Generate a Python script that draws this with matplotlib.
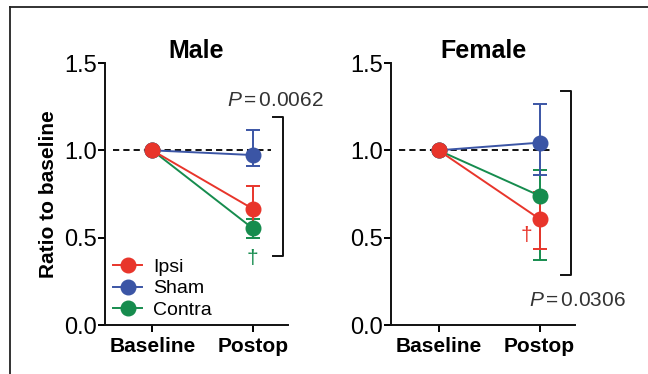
import matplotlib
matplotlib.use("Agg")
import matplotlib.pyplot as plt
from matplotlib.lines import Line2D

plt.rcParams['font.family'] = ['Liberation Sans', 'DejaVu Sans']
plt.rcParams['mathtext.fontset'] = 'custom'
plt.rcParams['mathtext.it'] = 'Liberation Sans:italic'
plt.rcParams['mathtext.rm'] = 'Liberation Sans'

timepoints = ["Baseline", "Postop"]
groups = ["Ipsi", "Sham", "Contra"]
colors = {"Ipsi": "#e8352b", "Sham": "#3b55a5", "Contra": "#168c4e"}

male_mean = {"Ipsi": [1.0, 0.665], "Sham": [1.0, 0.973], "Contra": [1.0, 0.553]}
male_upper = {"Ipsi": [1.0, 0.796], "Sham": [1.0, 1.116], "Contra": [1.0, 0.605]}
male_lower = {"Ipsi": [1.0, 0.557], "Sham": [1.0, 0.912], "Contra": [1.0, 0.496]}

female_mean = {"Ipsi": [1.0, 0.607], "Sham": [1.0, 1.044], "Contra": [1.0, 0.740]}
female_upper = {"Ipsi": [1.0, 0.760], "Sham": [1.0, 1.265], "Contra": [1.0, 0.890]}
female_lower = {"Ipsi": [1.0, 0.437], "Sham": [1.0, 0.861], "Contra": [1.0, 0.370]}

yticks = [0.0, 0.5, 1.0, 1.5]
ytick_labels = ["0.0", "0.5", "1.0", "1.5"]

W, H = 648, 374
fig = plt.figure(figsize=(W / 100, H / 100), dpi=100)

def px_axes(x0, x1, y_top, y_bot):
    return fig.add_axes([x0 / W, 1 - y_bot / H, (x1 - x0) / W, (y_bot - y_top) / H])

ax1 = px_axes(105, 288, 63, 325)
ax2 = px_axes(391, 575, 63, 325)

def draw(ax, mean, upper, lower, title, dash_end):
    x = [0, 1]
    ax.plot([-0.39, dash_end], [1, 1], ls=(0, (3.2, 2.1)), color="#111111", lw=1.4, zorder=1)
    for g in ["Contra", "Sham", "Ipsi"]:
        c = colors[g]
        m = mean[g]
        yerr = [[m[i] - lower[g][i] for i in range(2)], [upper[g][i] - m[i] for i in range(2)]]
        ax.errorbar(x, m, yerr=yerr, color=c, lw=1.4, marker="o", ms=10.5,
                    capsize=4.7, capthick=1.4, elinewidth=1.4, label=g, zorder=3)
    ax.set_xlim(-0.47, 1.35)
    ax.set_ylim(0, 1.5)
    ax.set_yticks(yticks)
    ax.set_yticklabels(ytick_labels)
    ax.set_xticks([0, 1])
    ax.set_xticklabels(timepoints, fontweight="bold", fontsize=15)
    for s in ["top", "right"]:
        ax.spines[s].set_visible(False)
    for s in ["left", "bottom"]:
        ax.spines[s].set_linewidth(1.4)
        ax.spines[s].set_color("#111111")
    ax.tick_params(axis="y", labelsize=17, width=1.4, length=5, pad=1)
    ax.tick_params(axis="x", width=1.4, length=5, pad=4)
    ax.set_title(title, fontweight="bold", fontsize=18, pad=1)

draw(ax1, male_mean, male_upper, male_lower, "Male", 1.18)
draw(ax2, female_mean, female_upper, female_lower, "Female", 1.10)

ax1.set_ylabel("Ratio to baseline", fontweight="bold", fontsize=15, labelpad=4)

def bracket(ax, xb, y0, y1):
    ax.plot([xb - 0.1, xb, xb, xb - 0.1], [y1, y1, y0, y0], color="#111111", lw=1.4,
            clip_on=False, zorder=2)

bracket(ax1, 1.3, 0.397, 1.19)
bracket(ax2, 1.31, 0.284, 1.34)

ax1.text(1.70, 1.288, r"$P\,$=$\,$0.0062", fontsize=15, ha="right", va="center",
         clip_on=False, color="#333333")
ax2.text(1.85, 0.143, r"$P\,$=$\,$0.0306", fontsize=15, ha="right", va="center",
         clip_on=False, color="#333333")

ax1.text(1.0, 0.383, "\u2020", color=colors["Contra"], fontsize=15, ha="center", va="center")
ax2.text(0.866, 0.515, "\u2020", color=colors["Ipsi"], fontsize=15, ha="center", va="center")

handles = [Line2D([0], [0], color=colors[g], marker="o", ms=10.5, lw=1.4) for g in groups]
ax1.legend(handles, groups, loc="lower left", bbox_to_anchor=(0.044, 0.023), frameon=False,
           fontsize=14, handlelength=1.5, handletextpad=0.55, labelspacing=0.2,
           borderaxespad=0, borderpad=0)

fig.add_artist(Line2D([10 / W, 1], [1 - 7 / H, 1 - 7 / H], color="#222222", lw=1.3))
fig.add_artist(Line2D([10 / W, 10 / W], [0, 1 - 7 / H], color="#222222", lw=1.3))

fig.savefig("out.png", dpi=100)
